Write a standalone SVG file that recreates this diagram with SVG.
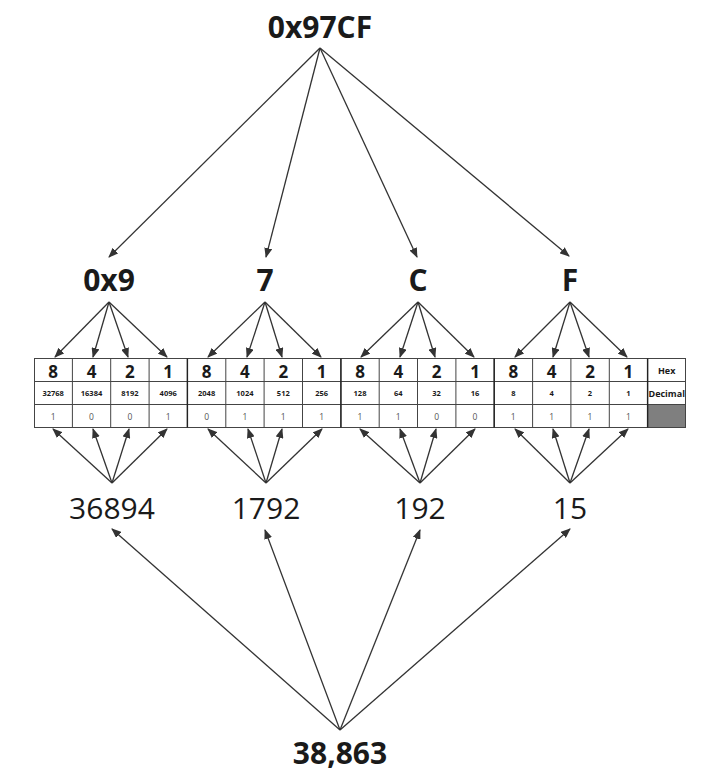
<svg xmlns="http://www.w3.org/2000/svg" width="726" height="776" viewBox="0 0 726 776">
<style>
.t{font-family:"Open Sans","Noto Sans",sans-serif;fill:#1a1a1a;text-anchor:middle}
.big{font-size:30px;font-weight:bold}
.sum{font-size:30px;font-weight:normal}
.d{font-size:17px;font-weight:bold}
.s{font-size:7.5px;font-weight:bold}
.h{font-size:9px;font-weight:bold}
.b{font-size:8.5px;font-weight:normal;fill:#555}
.c{stroke:#333;stroke-width:1.3;fill:none;marker-end:url(#ah)}
.g{stroke:#444;stroke-width:1;fill:none}
</style>
<defs>
<marker id="ah" markerUnits="userSpaceOnUse" markerWidth="10" markerHeight="8" refX="9" refY="4" orient="auto">
<path d="M0,0 L10,4 L0,8 Z" fill="#333"/>
</marker>
</defs>
<g id="title"><text class="t big" x="320" y="38">0x97CF</text></g>
<g id="nib1"><text class="t big" x="109" y="291">0x9</text></g>
<g id="nib2"><text class="t big" x="265" y="291">7</text></g>
<g id="nib3"><text class="t big" x="418" y="291">C</text></g>
<g id="nib4"><text class="t big" x="570" y="291">F</text></g>
<g id="table">
<rect x="648" y="404.5" width="38" height="23" fill="#7f7f7f"/>
<path class="g" d="M34,358.5H686M34,381.5H686M34,404.5H686M34,427.5H686
M34.5,358.5V427.5M72.4,358.5V427.5M110.7,358.5V427.5M149.1,358.5V427.5M187.4,358.5V427.5M225.8,358.5V427.5M264.1,358.5V427.5M302.5,358.5V427.5M340.9,358.5V427.5M379.2,358.5V427.5M417.5,358.5V427.5M455.9,358.5V427.5M494.2,358.5V427.5M532.6,358.5V427.5M570.9,358.5V427.5M609.3,358.5V427.5M647.6,358.5V427.5M685.5,358.5V427.5"/>
<path d="M187.4,358.5V427.5M340.9,358.5V427.5M494.2,358.5V427.5M647.6,358.5V427.5" stroke="#222" stroke-width="1.4" fill="none"/>
<g class="t d">
<text x="53.2" y="378">8</text><text x="91.5" y="378">4</text><text x="129.9" y="378">2</text><text x="168.2" y="378">1</text>
<text x="206.6" y="378">8</text><text x="244.9" y="378">4</text><text x="283.3" y="378">2</text><text x="321.6" y="378">1</text>
<text x="360" y="378">8</text><text x="398.3" y="378">4</text><text x="436.6" y="378">2</text><text x="475" y="378">1</text>
<text x="513.3" y="378">8</text><text x="551.7" y="378">4</text><text x="590" y="378">2</text><text x="628.4" y="378">1</text>
</g>
<g class="t s">
<text x="53.2" y="396">32768</text><text x="91.5" y="396">16384</text><text x="129.9" y="396">8192</text><text x="168.2" y="396">4096</text>
<text x="206.6" y="396">2048</text><text x="244.9" y="396">1024</text><text x="283.3" y="396">512</text><text x="321.6" y="396">256</text>
<text x="360" y="396">128</text><text x="398.3" y="396">64</text><text x="436.6" y="396">32</text><text x="475" y="396">16</text>
<text x="513.3" y="396">8</text><text x="551.7" y="396">4</text><text x="590" y="396">2</text><text x="628.4" y="396">1</text>
</g>
<g class="t h">
<text x="666.7" y="374">Hex</text><text x="666.7" y="396.5">Decimal</text>
</g>
<g class="t b">
<text x="53.2" y="419.5">1</text><text x="91.5" y="419.5">0</text><text x="129.9" y="419.5">0</text><text x="168.2" y="419.5">1</text>
<text x="206.6" y="419.5">0</text><text x="244.9" y="419.5">1</text><text x="283.3" y="419.5">1</text><text x="321.6" y="419.5">1</text>
<text x="360" y="419.5">1</text><text x="398.3" y="419.5">1</text><text x="436.6" y="419.5">0</text><text x="475" y="419.5">0</text>
<text x="513.3" y="419.5">1</text><text x="551.7" y="419.5">1</text><text x="590" y="419.5">1</text><text x="628.4" y="419.5">1</text>
</g>
</g>
<g id="sum1"><text class="t sum" x="112" y="519">36894</text></g>
<g id="sum2"><text class="t sum" x="266" y="519">1792</text></g>
<g id="sum3"><text class="t sum" x="420" y="519">192</text></g>
<g id="sum4"><text class="t sum" x="570" y="519">15</text></g>
<g id="total"><text class="t big" x="340" y="764">38,863</text></g>
<g id="connectors">
<path class="c" d="M320,48L109,257"/><path class="c" d="M320,48L266,257"/><path class="c" d="M320,48L417,257"/><path class="c" d="M320,48L569,256"/>
<path class="c" d="M109,302L55,357"/><path class="c" d="M109,302L93,357"/><path class="c" d="M109,302L128,357"/><path class="c" d="M109,302L167,357"/>
<path class="c" d="M265,302L208,357"/><path class="c" d="M265,302L247,357"/><path class="c" d="M265,302L282,357"/><path class="c" d="M265,302L321,357"/>
<path class="c" d="M418,302L361,357"/><path class="c" d="M418,302L400,357"/><path class="c" d="M418,302L435,357"/><path class="c" d="M418,302L474,357"/>
<path class="c" d="M570,302L515,357"/><path class="c" d="M570,302L553,357"/><path class="c" d="M570,302L589,357"/><path class="c" d="M570,302L627,357"/>
<path class="c" d="M112,483L53,429"/><path class="c" d="M112,483L93,429"/><path class="c" d="M112,483L129,429"/><path class="c" d="M112,483L167,429"/>
<path class="c" d="M266,483L208,429"/><path class="c" d="M266,483L248,429"/><path class="c" d="M266,483L282,429"/><path class="c" d="M266,483L322,429"/>
<path class="c" d="M420,483L360,429"/><path class="c" d="M420,483L400,429"/><path class="c" d="M420,483L436,429"/><path class="c" d="M420,483L475,429"/>
<path class="c" d="M570,483L515,429"/><path class="c" d="M570,483L553,429"/><path class="c" d="M570,483L589,429"/><path class="c" d="M570,483L628,429"/>
<path class="c" d="M340,730L112,529"/><path class="c" d="M340,730L265,530"/><path class="c" d="M340,730L420,530"/><path class="c" d="M340,730L570,529"/>
</g>
</svg>
